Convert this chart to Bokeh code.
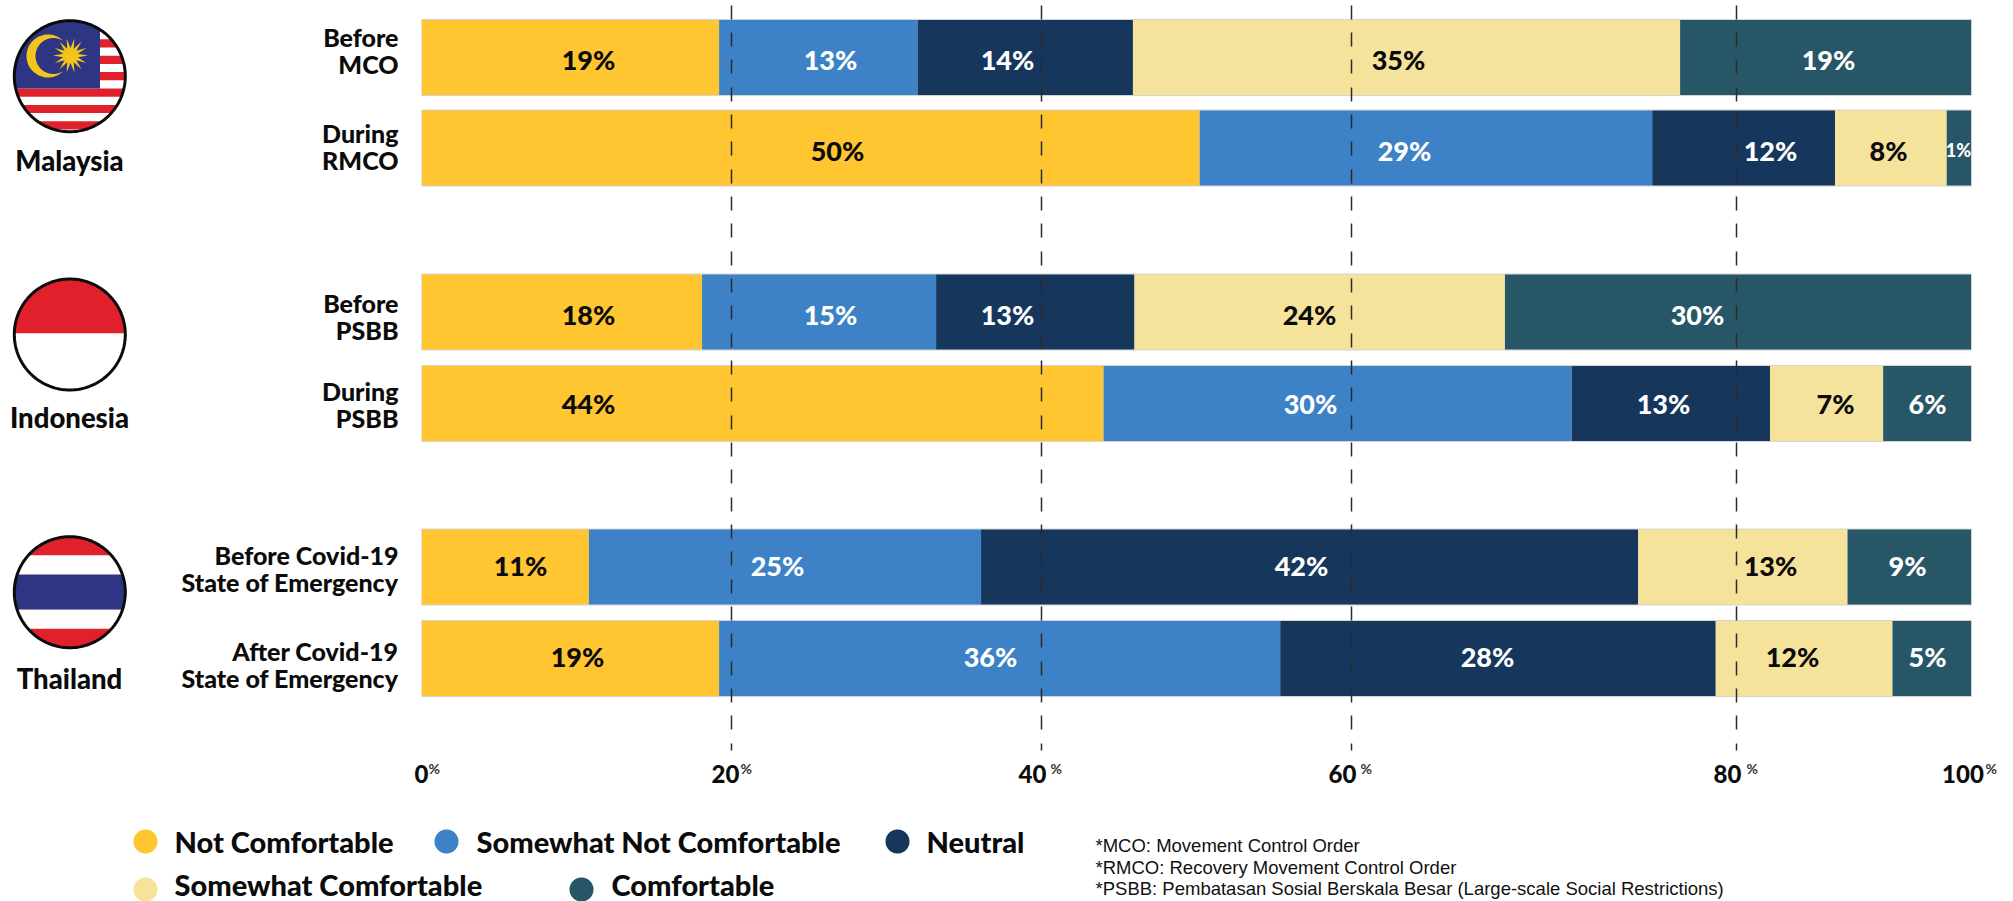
import numpy as np
from bokeh.core.properties import value
from bokeh.embed import file_html
from bokeh.models import FixedTicker, Grid, LinearAxis, Range1d
from bokeh.plotting import figure
from bokeh.resources import INLINE

# ---------- data ----------
rows = ["Before\nMCO", "During\nRMCO", "Before\nPSBB", "During\nPSBB",
        "Before Covid-19\nState of Emergency", "After Covid-19\nState of Emergency"]
countries = ["Malaysia", "Indonesia", "Thailand"]
series = ["Not Comfortable", "Somewhat Not Comfortable", "Neutral", "Somewhat Comfortable", "Comfortable"]
not_comfortable = [19.2, 50.2, 18.1, 44.0, 10.8, 19.2]
somewhat_not = [12.8, 29.2, 15.1, 30.2, 25.3, 36.2]
neutral = [13.9, 11.8, 12.8, 12.8, 42.4, 28.1]
somewhat = [35.3, 7.2, 23.9, 7.3, 13.5, 11.4]
comfortable = [18.8, 1.6, 30.1, 5.7, 8.0, 5.1]
printed = [["19%", "13%", "14%", "35%", "19%"], ["50%", "29%", "12%", "8%", "1%"],
           ["18%", "15%", "13%", "24%", "30%"], ["44%", "30%", "13%", "7%", "6%"],
           ["11%", "25%", "42%", "13%", "9%"], ["19%", "36%", "28%", "12%", "5%"]]
tick_labels = ["0", "20", "40", "60", "80", "100"]
notes = ["*MCO: Movement Control Order", "*RMCO: Recovery Movement Control Order",
         "*PSBB: Pembatasan Sosial Berskala Besar (Large-scale Social Restrictions)"]

# ---------- layout (page pixels) ----------
HEAVY = "Lato Black"
FONT = value(HEAVY)
X0, X100 = 421.0, 1971.0
SCALE = (X100 - X0) / 100
def dx(px):
    return (np.asarray(px, dtype=float) - X0) / SCALE

row_y = [57, 147.5, 311.5, 403, 566.5, 658]
row_label_y = [50, 146, 316, 404, 567.5, 663.5]
value_label_y = [58.7, 149.6, 314, 403, 564.7, 655.6]
grid_at = [0, 20, 40, 60, 84.84, 100]          # the reference's 80% rule sits off-scale
tick_nudge = [0, -6, -9, -9, -9, -8.5]
pct_nudge = [7, 9, 9, 9, 10, 14]
colors = ["#FFC631", "#3D82C6", "#16365C", "#F5E29B", "#275767"]
text_colors = ["#0b0b0b", "white", "white", "#0b0b0b", "white"]
label_px = [[588, 830, 1007, 1398, 1828], [837, 1404, 1770, 1888, 1958], [588, 830, 1007, 1309, 1697],
            [588, 1310, 1663, 1835, 1927], [520, 777, 1301, 1770, 1907], [577, 990, 1487, 1792, 1927]]

p = figure(width=2013, height=901, frame_width=1550, frame_height=745,
           x_range=Range1d(0, 100), y_range=Range1d(750, 5),
           output_backend="svg", toolbar_location=None, x_axis_location=None, y_axis_location=None,
           min_border_left=421, min_border_right=42, min_border_top=5, min_border_bottom=151,
           outline_line_color=None, background_fill_color="white", border_fill_color="white")
p.grid.visible = False

# bars
left = np.zeros(6)
for name, vals, col in zip(series, [not_comfortable, somewhat_not, neutral, somewhat, comfortable], colors):
    vals = np.array(vals)
    p.hbar(y=row_y, left=left, right=left + vals, height=76, color=col, line_color=None)
    left = left + vals
p.hbar(y=row_y, left=0, right=left, height=76, fill_color=None, line_color="#d4d4d4", line_width=1)

# grid
grid = Grid(dimension=0, ticker=FixedTicker(ticks=grid_at), grid_line_color="#2b2b2b", grid_line_width=1.5,
            grid_line_dash="14 13 14 13 14 14", level="guide")
p.add_layout(grid)

# axis labels sit just left of the rules; small % follows
ticks = [g + n / SCALE for g, n in zip(grid_at, tick_nudge)]
axis = LinearAxis(ticker=FixedTicker(ticks=ticks),
                  major_label_overrides={t: l for t, l in zip(ticks, tick_labels)},
                  axis_line_color=None, major_tick_line_color=None, minor_tick_line_color=None,
                  major_label_text_font=HEAVY, major_label_text_font_size="24px",
                  major_label_text_color="#0b0b0b", major_label_standoff=8)
p.add_layout(axis, "below")
p.text(x=[g + n / SCALE for g, n in zip(grid_at, pct_nudge)], y=[768] * 6, text=["%"] * 6, text_font=value("Lato"),
       text_font_style="bold", text_font_size="14px",
       text_align="left", text_baseline="middle", text_color="#333", level="annotation")

# bar value labels
for r, y in enumerate(value_label_y):
    for s in range(5):
        small = printed[r][s] == "1%"
        p.text(x=[dx(label_px[r][s])], y=[y], text=[printed[r][s]], text_font=FONT,
               text_font_size="18px" if small else "27px",
               text_color=text_colors[s], text_align="center", text_baseline="middle", level="annotation")

# row labels
p.text(x=[dx(398)] * 6, y=row_label_y, text=rows, text_font=FONT, text_font_size="25px",
       text_align="right", text_baseline="middle", text_color="#0b0b0b", text_line_height=0.9, level="annotation")

# country labels
p.text(x=[dx(69)] * 3, y=[160, 417, 678], text=countries, text_font=FONT,
       text_font_size="27.5px", text_align="center", text_baseline="middle", text_color="#0b0b0b", level="annotation")

# flags and legend dots helpers
def circle_poly(cx, cy, r, n=180):
    t = np.linspace(0, 2 * np.pi, n, endpoint=False)
    return list(zip(cx + r * np.cos(t), cy + r * np.sin(t)))

def clip(poly, axis_i, limit, keep_less):
    out = []
    for i in range(len(poly)):
        a, b = poly[i], poly[(i + 1) % len(poly)]
        ina = (a[axis_i] <= limit) if keep_less else (a[axis_i] >= limit)
        inb = (b[axis_i] <= limit) if keep_less else (b[axis_i] >= limit)
        if ina:
            out.append(a)
        if ina != inb:
            k = (limit - a[axis_i]) / (b[axis_i] - a[axis_i])
            out.append((a[0] + k * (b[0] - a[0]), a[1] + k * (b[1] - a[1])))
    return out

def band(cx, cy, r, x0, x1, y0, y1, color):
    poly = circle_poly(cx, cy, r)
    for ax, lim, less in [(0, x0, False), (0, x1, True), (1, y0, False), (1, y1, True)]:
        if poly:
            poly = clip(poly, ax, lim, less)
    if poly:
        xs, ys = zip(*poly)
        p.patch(x=dx(xs), y=ys, color=color, line_color=None, level="annotation")

def ring(cx, cy, r):
    t = np.linspace(0, 2 * np.pi, 181)
    p.line(x=dx(cx + r * np.cos(t)), y=cy + r * np.sin(t), line_color="#0b0b0b", line_width=3, level="annotation")

# legend
leg_cx = [145, 446, 897, 145, 581]
leg_tx = [174, 476, 926, 174, 611]
leg_y = [841, 841, 841, 883.5, 883.5]
for cx, y, col in zip(leg_cx, [841, 841, 841, 889, 889], colors):
    band(cx, y, 12, -1000, 4000, -1000, 4000, col)
p.text(x=dx(leg_tx), y=leg_y, text=series, text_font=FONT, text_font_size="29px",
       text_align="left", text_baseline="middle", text_color="#0b0b0b", level="annotation")

# footnotes
p.text(x=[dx(1095)] * 3, y=[845, 867, 888], text=notes, text_font=value("Liberation Sans"), text_font_size="18.5px",
       text_align="left", text_baseline="middle", text_color="#111", level="annotation")

R = 55.5
RED, WHITE, NAVY, GOLD = "#E0202A", "#FFFFFF", "#2E3582", "#F3C51C"
FX = 69.3

# Malaysia
cy = 75.7
band(FX, cy, R, 0, 200, 0, 200, WHITE)
for k in range(7):
    top = 22.4 + k * 16.4
    band(FX, cy, R, 0, 200, top, top + 8.2, RED)
band(FX, cy, R, 0, 99.5, 0, 88, NAVY)
t1 = np.radians(np.linspace(0, 360, 29)[:-1])
rad = np.where(np.arange(28) % 2 == 0, 17.5, 7.5)
p.patch(x=dx(70 + rad * np.cos(t1)), y=55 + rad * np.sin(t1), color=GOLD, line_color=None, level="annotation")
c1, r1, c2, r2 = 47.5, 21.5, 53.0, 18.0
d = c2 - c1
a = (d * d + r1 * r1 - r2 * r2) / (2 * d)
h = np.sqrt(r1 * r1 - a * a)
th1 = np.arctan2(h, a)
th2 = np.arctan2(h, a - d)
o = np.linspace(th1, 2 * np.pi - th1, 60)
i = np.linspace(2 * np.pi - th2, th2, 60)
p.patch(x=dx(np.r_[c1 + r1 * np.cos(o), c2 + r2 * np.cos(i)]),
        y=np.r_[55.5 + r1 * np.sin(o), 55.5 + r2 * np.sin(i)], color=GOLD, line_color=None, level="annotation")
ring(FX, cy, R)

# Indonesia
cy = 334
band(FX, cy, R, 0, 200, 200, 333, RED)
band(FX, cy, R, 0, 200, 333, 500, WHITE)
ring(FX, cy, R)

# Thailand
cy = 591.7
for y0, y1, c in [(500, 555, RED), (555, 574, WHITE), (574, 609.3, NAVY), (609.3, 628.3, WHITE), (628.3, 700, RED)]:
    band(FX, cy, R, 0, 200, y0, y1, c)
ring(FX, cy, R)

open("out.html", "w").write(file_html(p, INLINE))
